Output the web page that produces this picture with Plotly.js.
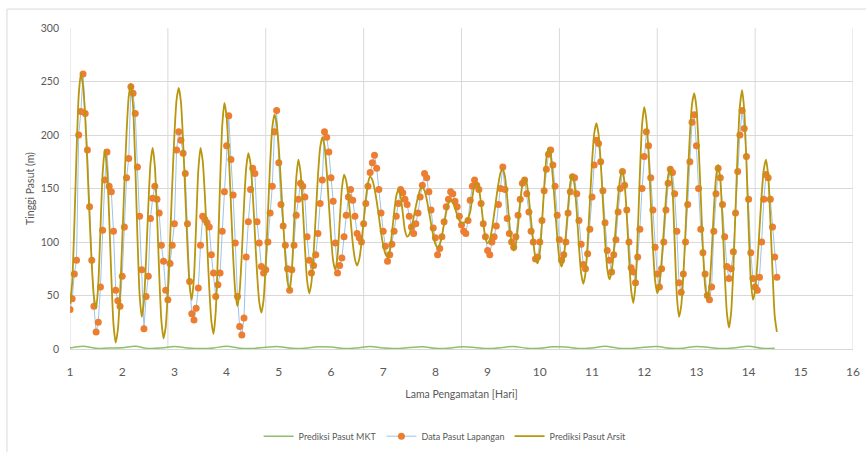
<!DOCTYPE html>
<html>
<head>
<meta charset="utf-8">
<script src="https://cdn.plot.ly/plotly-3.0.1.min.js"></script>
<style>html,body{margin:0;padding:0;background:#fff;}#chart{width:866px;height:452px;}</style>
</head>
<body>
<div id="chart"></div>
<script>
// ---- data (hourly, starting at day 1) ----
const startDay = 1;
const hoursPerDay = 24;

// Data Pasut Lapangan (field observations), hourly
const dataLapangan = [
37,47,70,83,200,222,257,220,186,133,
83,40,16,25,58,111,158,184,152,147,
110,55,45,40,68,114,160,178,245,239,
220,170,124,74,19,49,68,122,141,152,
140,127,97,82,55,46,80,97,117,186,
203,195,183,164,117,63,33,27,38,57,
97,124,121,118,114,88,71,49,60,71,
110,147,190,218,177,144,99,49,21,13,
29,86,119,149,169,164,119,99,77,71,
74,100,127,152,203,223,174,135,115,97,
75,55,74,97,125,140,155,152,142,105,
83,71,78,88,108,136,158,203,198,184,
160,138,99,71,78,85,105,125,142,149,
139,124,108,104,100,117,136,152,165,174,
181,169,149,127,110,96,82,88,98,110,
124,136,149,146,140,135,124,114,108,117,
127,142,153,164,160,147,130,113,104,88,
94,105,119,133,140,147,145,138,133,124,
116,110,108,120,139,152,158,153,149,136,
117,105,92,88,100,105,115,135,150,170,
149,122,108,100,95,105,125,140,155,158,
145,128,110,100,84,86,100,120,148,168,
182,186,172,152,125,102,83,88,100,127,
147,161,160,145,120,98,79,75,89,112,
142,172,195,192,175,148,118,92,83,72,
88,102,128,150,166,153,130,100,76,72,
62,86,112,150,180,203,190,160,130,95,
70,58,75,100,130,155,168,165,145,110,
62,53,70,100,135,175,212,219,190,150,
112,90,70,50,46,58,110,145,169,160,
135,105,77,66,75,91,127,166,200,223,
206,180,140,90,66,58,55,67,100,140,
163,160,140,114,86,67
];

// Prediksi Pasut Arsit, hourly
const prediksiArsit = [
42,62,116,183,237,257,246,216,172,123,79,49,38,
60,112,164,186,
169,124,68,23,6,
18,51,100,154,202,236,248,
227,173,105,51,30,
45,85,133,173,188,
171,127,71,27,10,
21,54,101,153,200,233,244,
231,194,145,96,59,46,
67,117,167,188,
176,144,101,58,26,14,
35,89,155,209,230,
217,182,135,87,53,40,
54,89,134,169,183,
173,146,108,71,44,34,
46,80,126,173,207,219,
211,188,155,119,86,63,55,
73,116,159,177,
165,134,95,64,52,
62,89,125,162,188,198,
190,167,136,105,82,74,
87,119,150,163,
157,142,121,99,84,78,
84,99,120,140,155,161,
158,150,138,124,109,97,89,86,
92,108,127,143,149,
143,127,111,105,
107,114,123,133,142,149,151,
148,140,129,117,106,98,95,
98,106,117,128,136,139,
137,132,125,120,118,
118,119,122,128,142,153,155,
150,136,118,104,99,
102,112,126,141,155,165,168,
161,142,118,99,92,
98,115,137,154,160,
155,140,120,100,85,80,
90,117,151,178,188,
181,160,133,105,84,77,
85,107,133,155,163,
153,128,96,71,61,
71,99,136,174,201,211,
201,175,138,102,75,65,
72,91,116,142,160,167,
155,124,86,55,43,
60,106,163,209,226,
214,183,139,96,64,52,
60,82,111,141,162,170,
150,100,50,30,
40,69,111,158,200,229,239,
226,191,143,94,59,46,
58,89,129,160,172,
158,120,72,34,20,
35,76,131,187,227,242,
223,174,114,65,46,
55,79,112,144,168,177,
162,121,72,31,16
];

// Prediksi Pasut MKT, every 6 hours
const mktStepHours = 6;
const prediksiMKT = [
0.8,2.6,0.6,1.0,1.2,2.5,0.5,0.9,2.3,1.0,
0.4,1.0,2.6,0.8,0.5,1.6,2.2,0.6,0.7,2.0,
1.8,0.4,1.0,2.4,0.9,0.5,1.4,2.2,0.6,0.8,
2.0,1.5,0.4,1.2,2.4,0.7,0.6,2.0,1.8,0.4,
1.0,2.5,0.8,0.5,1.6,2.3,0.6,0.8,2.4,1.4,
0.4,1.2,2.5,0.7,0.6
];

const xTicks = [1,2,3,4,5,6,7,8,9,10,11,12,13,14,15,16];
const seriesNames = ["Prediksi Pasut MKT", "Data Pasut Lapangan", "Prediksi Pasut Arsit"];

// ---- build ----
const dayOf = (i, step) => startDay + i * step / hoursPerDay;
const xData = dataLapangan.map((_, i) => dayOf(i, 1));
const xArsit = prediksiArsit.map((_, i) => dayOf(i, 1));
const xMKT = prediksiMKT.map((_, i) => dayOf(i, mktStepHours));

const grey = '#595959';
const font = 'Lato, "Open Sans", sans-serif';

const traces = [
  { x: xMKT, y: prediksiMKT, name: seriesNames[0], type: 'scatter', mode: 'lines',
    line: { color: '#8CC06A', width: 1.5, shape: 'spline' } },
  { x: xData, y: dataLapangan, name: seriesNames[1], type: 'scatter', mode: 'lines+markers',
    line: { color: '#9DC3E6', width: 1 },
    marker: { color: '#ED7D31', size: 7, line: { width: 0 } } },
  { x: xArsit, y: prediksiArsit, name: seriesNames[2], type: 'scatter', mode: 'lines',
    line: { color: '#B8960E', width: 1.8, shape: 'spline', smoothing: 0.6 } }
];

// vertical gridlines (Excel major unit of 15/8 day)
const shapes = [];
const gridStep = (xTicks[xTicks.length - 1] - xTicks[0]) / 8;
for (let k = 0; k <= 8; k++) {
  const gx = xTicks[0] + k * gridStep;
  shapes.push({ type: 'line', xref: 'x', yref: 'paper', x0: gx, x1: gx, y0: 0, y1: 1,
    line: { color: '#D9D9D9', width: 1 }, layer: 'below' });
}
// chart area border
shapes.push({ type: 'rect', xref: 'paper', yref: 'paper', x0: -0.0805, x1: 1.02, y0: -0.33, y1: 1.059,
  line: { color: '#D9D9D9', width: 1 }, fillcolor: 'rgba(0,0,0,0)', layer: 'below' });

const layout = {
  width: 866, height: 452,
  margin: { l: 70, r: 13, t: 28, b: 103, autoexpand: false },
  paper_bgcolor: '#fff', plot_bgcolor: '#fff',
  font: { family: font, color: grey },
  showlegend: true,
  legend: { orientation: 'h', xref: 'container', yref: 'container',
    x: 0.514, xanchor: 'center', y: 0.035, yanchor: 'middle',
    font: { size: 9, color: grey }, itemwidth: 30, traceorder: 'normal' },
  xaxis: { range: [1, 16], tickvals: xTicks, ticktext: xTicks.map(String),
    showgrid: false, zeroline: false, showline: true, linecolor: '#D9D9D9', linewidth: 1,
    ticks: '', ticklabelstandoff: 12, tickfont: { size: 12, color: grey },
    title: { text: 'Lama Pengamatan [Hari]', font: { size: 10.5, color: grey }, standoff: 12 } },
  yaxis: { range: [0, 300], dtick: 50, tick0: 0, showgrid: true, gridcolor: '#D9D9D9',
    zeroline: false, showline: false, ticks: '', ticklabelstandoff: 10,
    tickfont: { size: 10.5, color: grey },
    title: { text: 'Tinggi Pasut (m)', font: { size: 10.5, color: grey }, standoff: 4 } },
  shapes: shapes
};

Plotly.newPlot('chart', traces, layout, { staticPlot: true, displayModeBar: false });
</script>
</body>
</html>
